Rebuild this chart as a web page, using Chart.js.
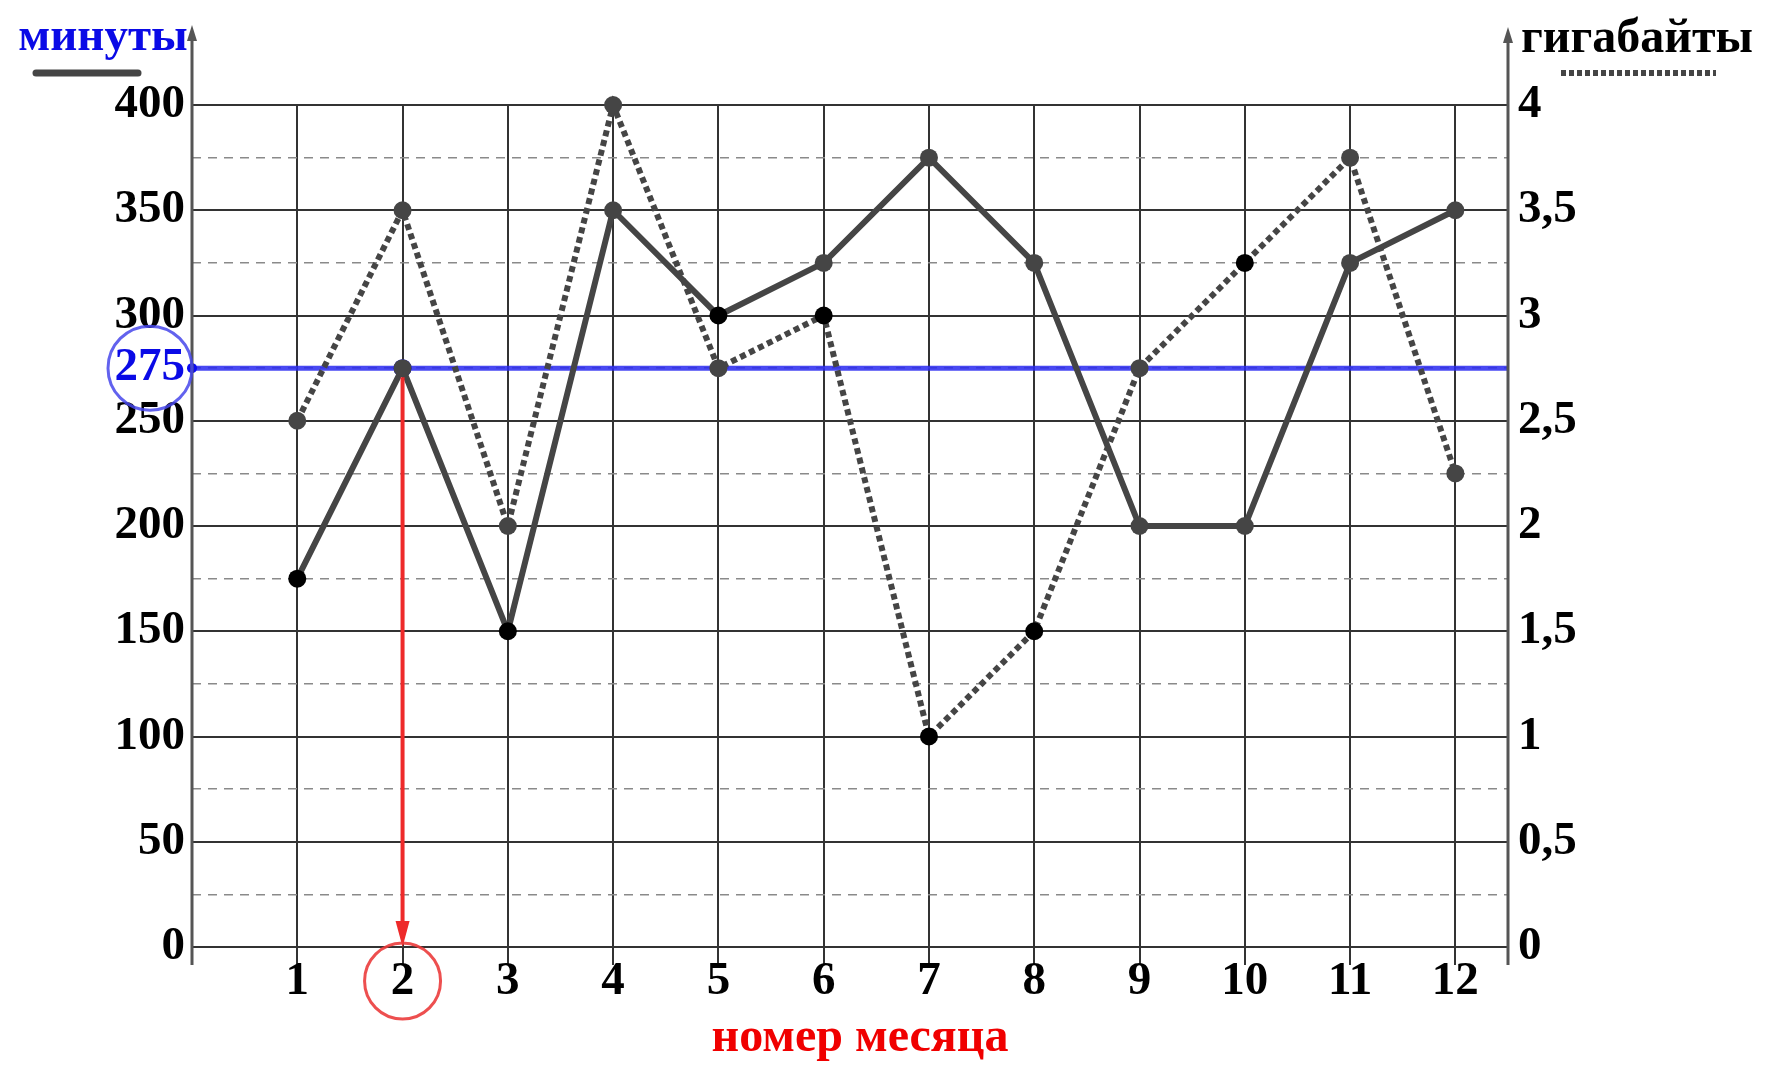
<!DOCTYPE html>
<html>
<head>
<meta charset="utf-8">
<script src="https://cdn.jsdelivr.net/npm/chart.js@4/dist/chart.umd.min.js"></script>
<style>
  html, body { margin: 0; padding: 0; background: #fff; }
  #wrap { width: 1768px; height: 1088px; }
</style>
</head>
<body>
<div id="wrap"><canvas id="chart" width="1768" height="1088"></canvas></div>
<script>
// значения
const months = [1, 2, 3, 4, 5, 6, 7, 8, 9, 10, 11, 12];
const minutes = [175, 275, 150, 350, 300, 325, 375, 325, 200, 200, 325, 350];
const gigabytes = [2.5, 3.5, 2, 4, 2.75, 3, 1, 1.5, 2.75, 3.25, 3.75, 2.25];

const minuteTicks = [0, 50, 100, 150, 200, 250, 300, 350, 400];
const minuteMinorTicks = [25, 75, 125, 175, 225, 275, 325, 375];
const gbTicks = [0, 0.5, 1, 1.5, 2, 2.5, 3, 3.5, 4];
const gbTickLabels = ['0', '0,5', '1', '1,5', '2', '2,5', '3', '3,5', '4'];

const markedMinutes = 275;
const markedMonth = 2;

// какие точки чёрные, а какие серые
const minuteBlack = [true, false, true, false, true, false, false, false, false, false, false, false];
const gbBlack = [false, false, false, false, false, true, true, true, false, true, false, false];

const GRAY = '#454545';
const BLUE = '#0c0cf2';
const RED = '#ee2a2a';
const FONT = 'Liberation Serif';

const pts = (ys) => months.map((m, i) => ({ x: m, y: ys[i] }));

function arrowLine(ctx, x1, y1, x2, y2, color, width, headLen, headW) {
  const a = Math.atan2(y2 - y1, x2 - x1);
  ctx.save();
  ctx.strokeStyle = color;
  ctx.fillStyle = color;
  ctx.lineWidth = width;
  ctx.beginPath();
  ctx.moveTo(x1, y1);
  ctx.lineTo(x2 - Math.cos(a) * headLen * 0.8, y2 - Math.sin(a) * headLen * 0.8);
  ctx.stroke();
  ctx.beginPath();
  ctx.moveTo(x2, y2);
  ctx.lineTo(x2 - Math.cos(a) * headLen - Math.sin(a) * headW, y2 - Math.sin(a) * headLen + Math.cos(a) * headW);
  ctx.lineTo(x2 - Math.cos(a) * headLen + Math.sin(a) * headW, y2 - Math.sin(a) * headLen - Math.cos(a) * headW);
  ctx.closePath();
  ctx.fill();
  ctx.restore();
}

const decor = {
  id: 'decor',
  afterDraw(chart) {
    const { ctx, chartArea: ca, scales } = chart;
    const x = scales.x, y = scales.y;
    const yZero = y.getPixelForValue(0);

    // оси со стрелками
    arrowLine(ctx, ca.left, yZero + 18, ca.left, 25, '#555', 3, 16, 5);
    arrowLine(ctx, ca.right, yZero + 18, ca.right, 27, '#555', 3, 16, 5);

    // красная стрелка к номеру месяца
    const mx = x.getPixelForValue(markedMonth);
    arrowLine(ctx, mx, y.getPixelForValue(markedMinutes) + 9, mx, yZero, RED, 4, 26, 7);

    ctx.save();
    ctx.lineWidth = 3;
    ctx.strokeStyle = 'rgba(235,60,60,0.9)';
    ctx.beginPath();
    ctx.arc(mx, 981, 38, 0, Math.PI * 2);
    ctx.stroke();

    ctx.strokeStyle = 'rgba(70,70,235,0.85)';
    ctx.beginPath();
    ctx.arc(150, y.getPixelForValue(markedMinutes), 42, 0, Math.PI * 2);
    ctx.stroke();

    // подписи осей
    ctx.textAlign = 'center';
    ctx.textBaseline = 'alphabetic';
    ctx.font = 'bold 47px "' + FONT + '"';
    ctx.fillStyle = '#0a0ae6';
    ctx.fillText('минуты', 103, 50);
    ctx.font = 'bold 48px "' + FONT + '"';
    ctx.fillStyle = '#000';
    ctx.fillText('гигабайты', 1637, 52);
    ctx.fillStyle = '#f00000';
    ctx.fillText('номер месяца', 860, 1051);

    // образцы линий
    ctx.strokeStyle = GRAY;
    ctx.lineWidth = 7;
    ctx.lineCap = 'round';
    ctx.beginPath();
    ctx.moveTo(36, 73);
    ctx.lineTo(138, 73);
    ctx.stroke();
    ctx.lineCap = 'butt';
    ctx.lineWidth = 6;
    ctx.setLineDash([5, 3]);
    ctx.beginPath();
    ctx.moveTo(1561, 73);
    ctx.lineTo(1716, 73);
    ctx.stroke();
    ctx.restore();
  }
};

const tickFont = { family: FONT, size: 47, weight: 'bold' };

new Chart(document.getElementById('chart'), {
  type: 'line',
  data: {
    datasets: [
      {
        label: 'минуты',
        data: pts(minutes),
        yAxisID: 'y',
        borderColor: GRAY,
        borderWidth: 6,
        pointRadius: 9,
        pointBorderWidth: 0,
        pointBackgroundColor: minuteBlack.map(b => b ? '#000' : GRAY),
        clip: false
      },
      {
        label: 'гигабайты',
        data: pts(gigabytes),
        yAxisID: 'y2',
        borderColor: GRAY,
        borderWidth: 6,
        borderDash: [6, 4],
        pointRadius: 9,
        pointBorderWidth: 0,
        pointBackgroundColor: gbBlack.map(b => b ? '#000' : GRAY),
        clip: false
      },
      {
        label: '275',
        data: [{ x: 0, y: markedMinutes }, { x: markedMonth, y: markedMinutes }, { x: 12.5, y: markedMinutes }],
        yAxisID: 'y',
        borderColor: 'rgba(40,40,240,0.85)',
        borderWidth: 5,
        pointRadius: [5, 9, 0],
        pointBorderWidth: 0,
        pointBackgroundColor: BLUE,
        clip: false
      }
    ]
  },
  options: {
    responsive: false,
    animation: false,
    devicePixelRatio: 1,
    layout: { padding: { top: 105, left: 0, right: 0, bottom: 0 } },
    plugins: { legend: { display: false }, tooltip: { enabled: false } },
    scales: {
      x: {
        type: 'linear',
        min: 0,
        max: 12.5,
        afterBuildTicks: s => { s.ticks = months.map(v => ({ value: v })); },
        afterFit: s => { s.height = 141; },
        ticks: { color: '#000', font: tickFont, padding: -11, autoSkip: false, maxRotation: 0 },
        grid: { color: '#333', lineWidth: 2, tickLength: 18, tickColor: '#333' },
        border: { display: false }
      },
      yMinor: {
        position: 'left',
        min: 0,
        max: 400,
        afterBuildTicks: s => { s.ticks = minuteMinorTicks.map(v => ({ value: v })); },
        afterFit: s => { s.width = 0; },
        ticks: { display: false },
        grid: { color: '#8a8a8a', lineWidth: 1.5, drawTicks: false },
        border: { display: false, dash: [9, 7] }
      },
      y: {
        position: 'left',
        min: 0,
        max: 400,
        afterBuildTicks: s => {
          s.ticks = minuteTicks.concat([markedMinutes]).sort((a, b) => a - b).map(v => ({ value: v }));
        },
        afterFit: s => { s.width = 192; },
        ticks: {
          autoSkip: false,
          padding: 7,
          color: c => c.tick && c.tick.value === markedMinutes ? '#0a0ae6' : '#000',
          font: tickFont
        },
        grid: {
          color: c => c.tick && c.tick.value === markedMinutes ? 'rgba(0,0,0,0)' : '#333',
          lineWidth: 2,
          drawTicks: false
        },
        border: { display: false }
      },
      y2: {
        position: 'right',
        min: 0,
        max: 4,
        afterBuildTicks: s => { s.ticks = gbTicks.map(v => ({ value: v })); },
        afterFit: s => { s.width = 260; },
        ticks: {
          autoSkip: false,
          padding: 10,
          color: '#000',
          font: tickFont,
          callback: v => gbTickLabels[gbTicks.indexOf(v)]
        },
        grid: { drawOnChartArea: false, drawTicks: false },
        border: { display: false }
      }
    }
  },
  plugins: [decor]
});
</script>
</body>
</html>
